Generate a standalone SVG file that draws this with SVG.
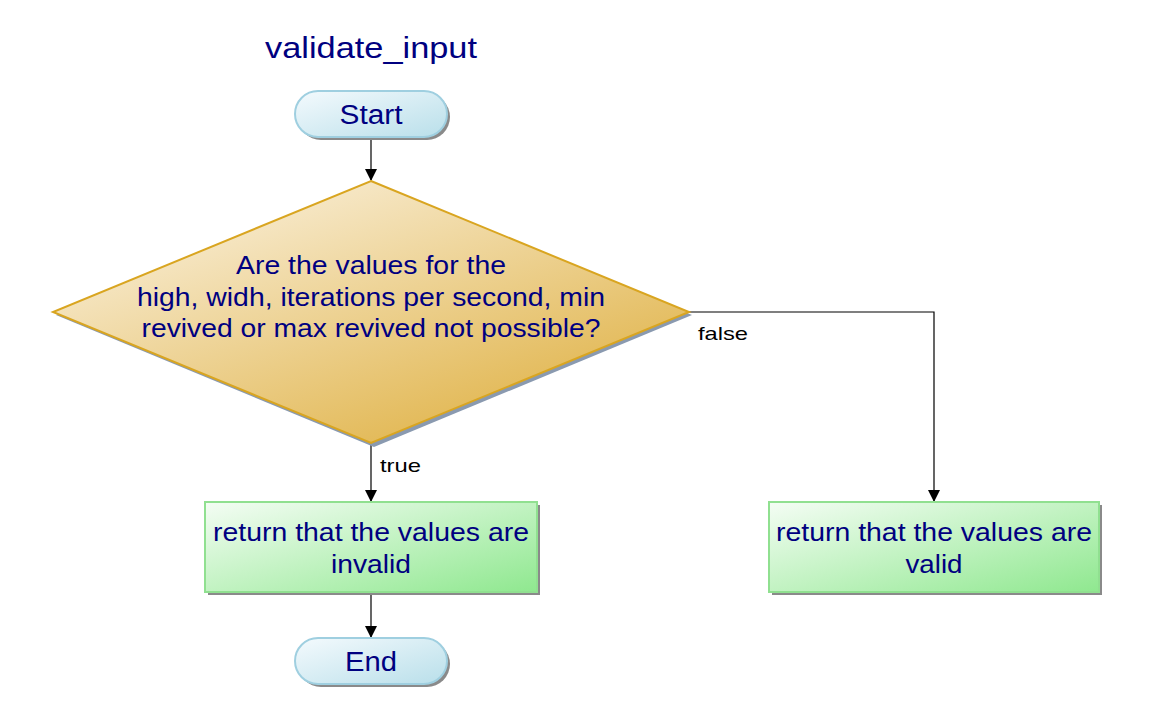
<svg xmlns="http://www.w3.org/2000/svg" width="1150" height="727" viewBox="0 0 1150 727">
<defs>
<linearGradient id="gPill" x1="0" y1="0" x2="1" y2="1"><stop offset="0" stop-color="#f4fafd"/><stop offset="1" stop-color="#b9dfea"/></linearGradient>
<linearGradient id="gDia" x1="0.2" y1="0.1" x2="0.85" y2="0.9"><stop offset="0" stop-color="#f8ecd2"/><stop offset="1" stop-color="#e0b348"/></linearGradient>
<linearGradient id="gBox" x1="0" y1="0" x2="1" y2="1"><stop offset="0" stop-color="#f4fdf4"/><stop offset="1" stop-color="#8fe88f"/></linearGradient>
<marker id="arr" markerWidth="12" markerHeight="12" refX="11" refY="6" orient="auto" markerUnits="userSpaceOnUse"><path d="M0,0 L12,6 L0,12 z" fill="#000"/></marker>
<style>
.t{font-family:"Liberation Sans",Arial,sans-serif;fill:#000080;text-anchor:middle}
.lbl{font-family:"Liberation Sans",Arial,sans-serif;fill:#000;font-size:19px}
.pill{fill:url(#gPill);stroke:#9fcfe0;stroke-width:2}
.box{fill:url(#gBox);stroke:#90e090;stroke-width:2}
.sh{fill:#8a8a8a}
.c{fill:none;stroke:#000;stroke-width:1.2}
</style>
</defs>
<rect width="1150" height="727" fill="#fff"/>
<text class="t" x="371" y="58" font-size="29" textLength="212" lengthAdjust="spacingAndGlyphs">validate_input</text>
<g id="connectors">
<line class="c" x1="371" y1="137" x2="371" y2="180" marker-end="url(#arr)"/>
<polyline class="c" points="689,312 934,312 934,501" marker-end="url(#arr)"/>
<line class="c" x1="371" y1="444" x2="371" y2="501" marker-end="url(#arr)"/>
<line class="c" x1="371" y1="593" x2="371" y2="637" marker-end="url(#arr)"/>
<text class="lbl" x="698" y="340" textLength="50" lengthAdjust="spacingAndGlyphs">false</text>
<text class="lbl" x="380" y="472" textLength="41" lengthAdjust="spacingAndGlyphs">true</text>
</g>
<g id="start">
<rect class="sh" x="298" y="94" width="152" height="46" rx="23"/>
<rect class="pill" x="295" y="91" width="152" height="46" rx="23"/>
<text class="t" x="371" y="124" font-size="27" textLength="63" lengthAdjust="spacingAndGlyphs">Start</text>
</g>
<g id="decision">
<polygon points="374,184 692,315 374,447 56,315" fill="#8a9ab0"/>
<polygon points="371,181 689,312 371,443 53,312" fill="url(#gDia)" stroke="#d9a520" stroke-width="2"/>
<text class="t" font-size="25"><tspan x="371" y="274" textLength="270" lengthAdjust="spacingAndGlyphs">Are the values for the</tspan></text>
<text class="t" font-size="25"><tspan x="371" y="306" textLength="468" lengthAdjust="spacingAndGlyphs">high, widh, iterations per second, min</tspan></text>
<text class="t" font-size="25"><tspan x="371" y="337" textLength="459" lengthAdjust="spacingAndGlyphs">revived or max revived not possible?</tspan></text>
</g>
<g id="invalid">
<rect class="sh" x="208" y="505" width="332" height="90"/>
<rect class="box" x="205" y="502" width="332" height="90"/>
<text class="t" font-size="25"><tspan x="371" y="541" textLength="316" lengthAdjust="spacingAndGlyphs">return that the values are</tspan></text>
<text class="t" font-size="25"><tspan x="371" y="573" textLength="80" lengthAdjust="spacingAndGlyphs">invalid</tspan></text>
</g>
<g id="valid">
<rect class="sh" x="772" y="505" width="330" height="90"/>
<rect class="box" x="769" y="502" width="330" height="90"/>
<text class="t" font-size="25"><tspan x="934" y="541" textLength="316" lengthAdjust="spacingAndGlyphs">return that the values are</tspan></text>
<text class="t" font-size="25"><tspan x="934" y="573" textLength="57" lengthAdjust="spacingAndGlyphs">valid</tspan></text>
</g>
<g id="end">
<rect class="sh" x="298" y="641" width="152" height="46" rx="23"/>
<rect class="pill" x="295" y="638" width="152" height="46" rx="23"/>
<text class="t" x="371" y="671" font-size="27" textLength="52" lengthAdjust="spacingAndGlyphs">End</text>
</g>
</svg>
